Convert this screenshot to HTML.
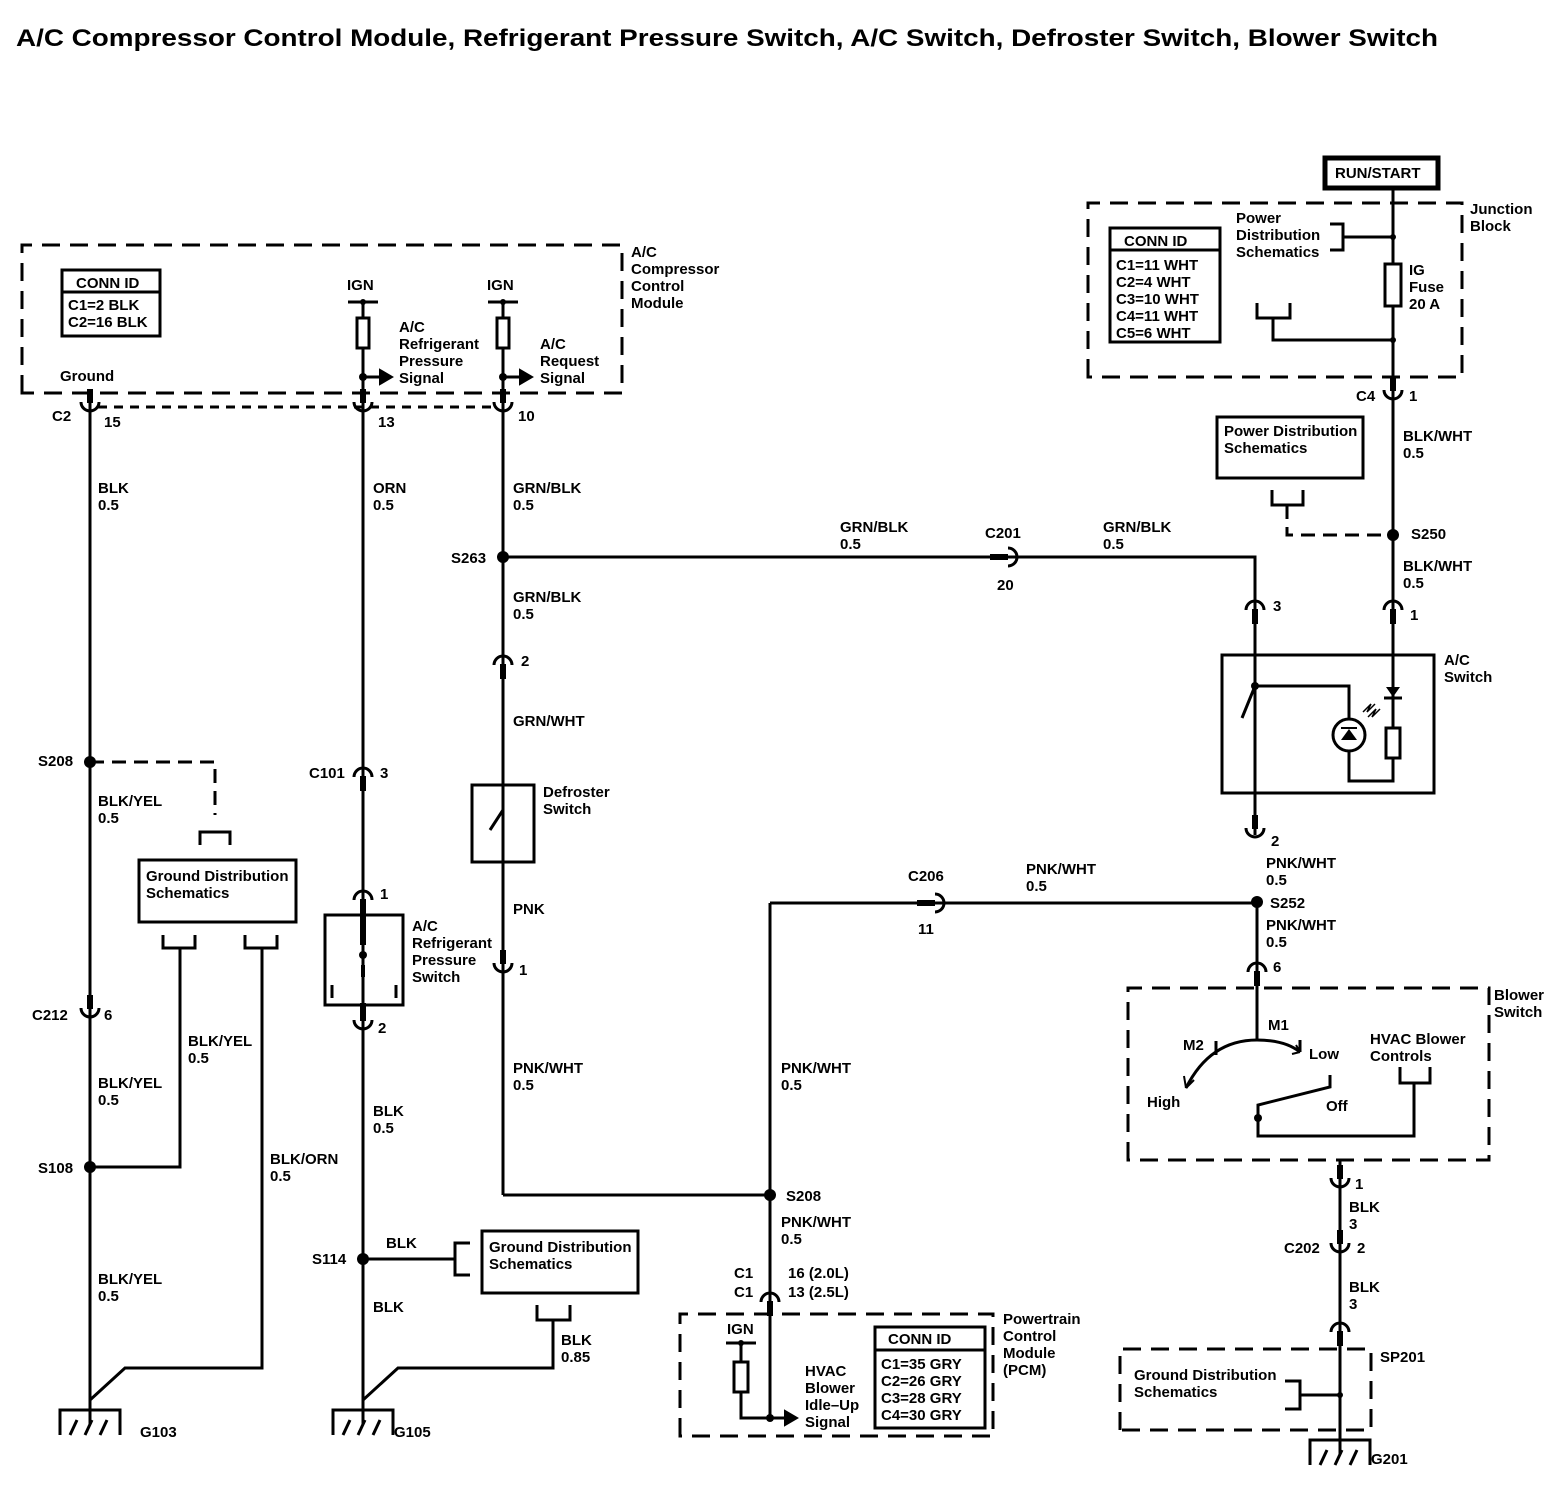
<!DOCTYPE html>
<html><head><meta charset="utf-8"><style>
html,body{margin:0;padding:0;background:#fff;}
svg{display:block;}
text{font-family:"Liberation Sans",Arial,sans-serif;font-size:15px;font-weight:bold;fill:#000;}
.t{font-size:24px;}
</style></head><body>
<svg width="1554" height="1504" viewBox="0 0 1554 1504" xmlns="http://www.w3.org/2000/svg">
<defs>
<g id="U"><rect x="-3" y="-15" width="6" height="14" fill="#000"/><path d="M-9,-2 A9 9 0 0 0 9,-2" fill="none" stroke="#000" stroke-width="3"/></g>
<g id="N"><rect x="-3" y="1" width="6" height="15" fill="#000"/><path d="M-9,2 A9 9 0 0 1 9,2" fill="none" stroke="#000" stroke-width="3"/></g>
<g id="R"><rect x="-20" y="-3" width="18" height="6" fill="#000"/><path d="M-2,-9 A9 9 0 0 1 -2,9" fill="none" stroke="#000" stroke-width="3"/></g>
<g id="G"><path d="M-30,25 L-30,0 L30,0 L30,25 M0,-12 L0,14" fill="none" stroke="#000" stroke-width="3"/><path d="M-20,25 L-13,10 M-5,25 L2,10 M10,25 L17,10" stroke="#000" stroke-width="3"/></g>
</defs>
<text x="16" y="46" class="t" textLength="1422" lengthAdjust="spacingAndGlyphs">A/C Compressor Control Module, Refrigerant Pressure   Switch, A/C Switch, Defroster Switch, Blower Switch</text>

<g fill="none" stroke="#000" stroke-width="3">
<path d="M22,393 L22,245 L622,245 L622,393 Z" stroke-dasharray="18,10"/>
<path d="M98,407 L495,407" stroke-dasharray="9,7"/>
<rect x="62" y="270" width="98" height="66"/>
<line x1="62" y1="292" x2="160" y2="292"/>
<line x1="348" y1="302" x2="378" y2="302"/><line x1="488" y1="302" x2="518" y2="302"/>
<rect x="357" y="318" width="12" height="30"/><rect x="497" y="318" width="12" height="30"/>
<line x1="363" y1="302" x2="363" y2="318"/><line x1="503" y1="302" x2="503" y2="318"/>
<line x1="363" y1="348" x2="363" y2="1400"/><line x1="503" y1="348" x2="503" y2="1195"/>
<line x1="363" y1="377" x2="380" y2="377"/><line x1="503" y1="377" x2="520" y2="377"/>
<line x1="90" y1="393" x2="90" y2="1400"/>
<path d="M90,762 L215,762 L215,815" stroke-dasharray="14,8"/>
<path d="M200,845 L200,832 L230,832 L230,845"/>
<rect x="139" y="860" width="157" height="62"/>
<path d="M163,935 L163,948 L195,948 L195,935 M180,948 L180,1167 L90,1167"/>
<path d="M245,935 L245,948 L277,948 L277,935 M262,948 L262,1368 L125,1368 L90,1400"/>
<path d="M363,1259 L455,1259 M470,1243 L455,1243 L455,1275 L470,1275"/>
<rect x="482" y="1231" width="156" height="62"/>
<path d="M537,1305 L537,1320 L570,1320 L570,1305 M553,1320 L553,1368 L398,1368 L363,1400"/>
<rect x="325" y="915" width="78" height="90"/>
<line x1="332" y1="985" x2="332" y2="998"/><line x1="396" y1="985" x2="396" y2="998"/>
<rect x="472" y="785" width="62" height="77"/>
<line x1="503" y1="810" x2="490" y2="830" stroke-width="3"/>
<path d="M503,557 L1255,557 L1255,830"/>
<path d="M503,1195 L770,1195 M770,903 L770,1420 M770,903 L1257,903"/>
<path d="M680,1436 L680,1314 L993,1314 L993,1436 Z" stroke-dasharray="18,10"/>
<line x1="726" y1="1343" x2="756" y2="1343"/><line x1="741" y1="1343" x2="741" y2="1362"/>
<rect x="734" y="1362" width="14" height="30"/>
<path d="M741,1392 L741,1418 L785,1418"/>
<rect x="875" y="1327" width="110" height="101"/>
<line x1="875" y1="1350" x2="985" y2="1350"/>
<rect x="1325" y="158" width="113" height="30" stroke-width="5"/>
<line x1="1393" y1="190" x2="1393" y2="605"/>
<path d="M1088,377 L1088,203 L1462,203 L1462,377 Z" stroke-dasharray="18,10"/>
<rect x="1110" y="228" width="110" height="114"/>
<line x1="1110" y1="250" x2="1220" y2="250"/>
<path d="M1330,224 L1343,224 L1343,250 L1330,250 M1343,237 L1393,237"/>
<rect x="1385" y="264" width="16" height="42" fill="#fff"/>
<path d="M1257,303 L1257,318 L1290,318 L1290,303 M1273,318 L1273,340 L1393,340"/>
<rect x="1217" y="417" width="146" height="61"/>
<path d="M1272,490 L1272,505 L1303,505 L1303,490"/>
<path d="M1287,505 L1287,535 L1393,535" stroke-dasharray="14,8"/>
<rect x="1222" y="655" width="212" height="138"/>
<line x1="1393" y1="605" x2="1393" y2="728"/>
<rect x="1386" y="728" width="14" height="30"/>
<path d="M1393,758 L1393,781 L1349,781 L1349,751 M1349,719 L1349,686 L1255,686 L1242,718"/>
<circle cx="1349" cy="735" r="16"/>
<line x1="1255" y1="726" x2="1255" y2="835"/>
<line x1="1257" y1="903" x2="1257" y2="1040"/>
<path d="M1128,1160 L1128,988 L1489,988 L1489,1160 Z" stroke-dasharray="18,10"/>
<path d="M1186,1088 Q1210,1040 1257,1040 Q1285,1040 1300,1052"/>
<line x1="1216" y1="1041" x2="1216" y2="1055"/><line x1="1300" y1="1040" x2="1300" y2="1052"/>
<path d="M1258,1118 L1258,1105 L1330,1087 L1330,1075"/>
<path d="M1258,1118 L1258,1136 L1414,1136 L1414,1083 M1400,1067 L1400,1083 L1430,1083 L1430,1067"/>
<line x1="1340" y1="1160" x2="1340" y2="1440"/>
<path d="M1120,1430 L1120,1349 L1371,1349 L1371,1430 Z" stroke-dasharray="18,10"/>
<path d="M1285,1381 L1300,1381 L1300,1409 L1285,1409 M1300,1395 L1340,1395"/>
</g>
<path d="M380,370 L392,377 L380,384 Z M520,370 L532,377 L520,384 Z M785,1411 L797,1418 L785,1425 Z M1186,1088 L1184,1076 M1186,1088 L1194,1080" fill="#000" stroke="#000" stroke-width="2"/>
<path d="M1386,687 L1400,687 L1393,697 Z" fill="#000"/><line x1="1384" y1="698" x2="1402" y2="698" stroke="#000" stroke-width="3"/>
<path d="M1341,740 L1357,740 L1349,729 Z" fill="#000"/><line x1="1341" y1="728" x2="1357" y2="728" stroke="#000" stroke-width="2"/>
<path d="M1363,712 L1371,704 L1367,712 L1375,704 M1368,717 L1376,709 L1372,717 L1380,709" fill="none" stroke="#000" stroke-width="1.5"/>
<path d="M1300,1052 L1296,1045 M1300,1052 L1292,1054" stroke="#000" stroke-width="2"/>
<g fill="#000">
<circle cx="363" cy="302" r="3"/><circle cx="503" cy="302" r="3"/><circle cx="363" cy="377" r="4"/><circle cx="503" cy="377" r="4"/>
<circle cx="90" cy="762" r="6"/><circle cx="90" cy="1167" r="6"/><circle cx="363" cy="1259" r="6"/>
<circle cx="503" cy="557" r="6"/><circle cx="770" cy="1195" r="6"/><circle cx="770" cy="1418" r="4"/><circle cx="741" cy="1343" r="3"/>
<circle cx="1393" cy="535" r="6"/><circle cx="1257" cy="902" r="6"/><circle cx="1393" cy="237" r="3"/><circle cx="1393" cy="340" r="3"/>
<circle cx="1255" cy="686" r="4"/><circle cx="363" cy="955" r="4"/><circle cx="1258" cy="1118" r="4"/><circle cx="1340" cy="1395" r="3"/>
<rect x="360" y="905" width="6" height="40"/><rect x="361" y="965" width="4" height="12"/><rect x="360" y="1003" width="6" height="14"/>
</g>
<use href="#U" x="90" y="404"/><use href="#U" x="363" y="404"/><use href="#U" x="503" y="404"/>
<use href="#U" x="1393" y="392"/><use href="#U" x="90" y="1010"/>
<use href="#N" x="363" y="775"/><use href="#N" x="363" y="898"/><use href="#U" x="363" y="1022"/>
<use href="#N" x="503" y="663"/><use href="#U" x="503" y="965"/>
<use href="#N" x="1255" y="608"/><use href="#N" x="1393" y="608"/><use href="#U" x="1255" y="830"/>
<use href="#N" x="1257" y="970"/><use href="#U" x="1340" y="1180"/><use href="#U" x="1340" y="1245"/><use href="#N" x="1340" y="1330"/>
<use href="#N" x="770" y="1300"/>
<use href="#R" x="1010" y="557"/><use href="#R" x="937" y="903"/>
<use href="#G" x="90" y="1410"/><use href="#G" x="363" y="1410"/><use href="#G" x="1340" y="1440"/>

<g>
<text x="631" y="257">A/C</text><text x="631" y="274">Compressor</text><text x="631" y="291">Control</text><text x="631" y="308">Module</text>
<text x="76" y="288">CONN ID</text><text x="68" y="310">C1=2 BLK</text><text x="68" y="327">C2=16 BLK</text>
<text x="347" y="290">IGN</text><text x="487" y="290">IGN</text>
<text x="399" y="332">A/C</text><text x="399" y="349">Refrigerant</text><text x="399" y="366">Pressure</text><text x="399" y="383">Signal</text>
<text x="540" y="349">A/C</text><text x="540" y="366">Request</text><text x="540" y="383">Signal</text>
<text x="60" y="381">Ground</text>
<text x="52" y="421">C2</text><text x="104" y="427">15</text><text x="378" y="427">13</text><text x="518" y="421">10</text>
<text x="98" y="493">BLK</text><text x="98" y="510">0.5</text>
<text x="373" y="493">ORN</text><text x="373" y="510">0.5</text>
<text x="513" y="493">GRN/BLK</text><text x="513" y="510">0.5</text>
<text x="451" y="563">S263</text>
<text x="840" y="532">GRN/BLK</text><text x="840" y="549">0.5</text>
<text x="985" y="538">C201</text><text x="997" y="590">20</text>
<text x="1103" y="532">GRN/BLK</text><text x="1103" y="549">0.5</text>
<text x="513" y="602">GRN/BLK</text><text x="513" y="619">0.5</text>
<text x="521" y="666">2</text><text x="513" y="726">GRN/WHT</text>
<text x="543" y="797">Defroster</text><text x="543" y="814">Switch</text>
<text x="513" y="914">PNK</text><text x="519" y="975">1</text>
<text x="513" y="1073">PNK/WHT</text><text x="513" y="1090">0.5</text>
<text x="38" y="766">S208</text>
<text x="98" y="806">BLK/YEL</text><text x="98" y="823">0.5</text>
<text x="146" y="881">Ground Distribution</text><text x="146" y="898">Schematics</text>
<text x="32" y="1020">C212</text><text x="104" y="1020">6</text>
<text x="188" y="1046">BLK/YEL</text><text x="188" y="1063">0.5</text>
<text x="98" y="1088">BLK/YEL</text><text x="98" y="1105">0.5</text>
<text x="38" y="1173">S108</text>
<text x="270" y="1164">BLK/ORN</text><text x="270" y="1181">0.5</text>
<text x="98" y="1284">BLK/YEL</text><text x="98" y="1301">0.5</text>
<text x="140" y="1437">G103</text><text x="394" y="1437">G105</text>
<text x="309" y="778">C101</text><text x="380" y="778">3</text>
<text x="380" y="899">1</text>
<text x="412" y="931">A/C</text><text x="412" y="948">Refrigerant</text><text x="412" y="965">Pressure</text><text x="412" y="982">Switch</text>
<text x="378" y="1033">2</text>
<text x="373" y="1116">BLK</text><text x="373" y="1133">0.5</text>
<text x="386" y="1248">BLK</text><text x="312" y="1264">S114</text><text x="373" y="1312">BLK</text>
<text x="489" y="1252">Ground Distribution</text><text x="489" y="1269">Schematics</text>
<text x="561" y="1345">BLK</text><text x="561" y="1362">0.85</text>
<text x="908" y="881">C206</text><text x="918" y="934">11</text>
<text x="1026" y="874">PNK/WHT</text><text x="1026" y="891">0.5</text>
<text x="781" y="1073">PNK/WHT</text><text x="781" y="1090">0.5</text>
<text x="786" y="1201">S208</text>
<text x="781" y="1227">PNK/WHT</text><text x="781" y="1244">0.5</text>
<text x="734" y="1278">C1</text><text x="734" y="1297">C1</text>
<text x="788" y="1278">16 (2.0L)</text><text x="788" y="1297">13 (2.5L)</text>
<text x="727" y="1334">IGN</text>
<text x="805" y="1376">HVAC</text><text x="805" y="1393">Blower</text><text x="805" y="1410">Idle–Up</text><text x="805" y="1427">Signal</text>
<text x="888" y="1344">CONN ID</text><text x="881" y="1369">C1=35 GRY</text><text x="881" y="1386">C2=26 GRY</text><text x="881" y="1403">C3=28 GRY</text><text x="881" y="1420">C4=30 GRY</text>
<text x="1003" y="1324">Powertrain</text><text x="1003" y="1341">Control</text><text x="1003" y="1358">Module</text><text x="1003" y="1375">(PCM)</text>
<text x="1335" y="178">RUN/START</text>
<text x="1470" y="214">Junction</text><text x="1470" y="231">Block</text>
<text x="1124" y="246">CONN ID</text><text x="1116" y="270">C1=11 WHT</text><text x="1116" y="287">C2=4 WHT</text><text x="1116" y="304">C3=10 WHT</text><text x="1116" y="321">C4=11 WHT</text><text x="1116" y="338">C5=6 WHT</text>
<text x="1236" y="223">Power</text><text x="1236" y="240">Distribution</text><text x="1236" y="257">Schematics</text>
<text x="1409" y="275">IG</text><text x="1409" y="292">Fuse</text><text x="1409" y="309">20 A</text>
<text x="1356" y="401">C4</text><text x="1409" y="401">1</text>
<text x="1403" y="441">BLK/WHT</text><text x="1403" y="458">0.5</text>
<text x="1224" y="436">Power Distribution</text><text x="1224" y="453">Schematics</text>
<text x="1411" y="539">S250</text>
<text x="1403" y="571">BLK/WHT</text><text x="1403" y="588">0.5</text>
<text x="1273" y="611">3</text><text x="1410" y="620">1</text>
<text x="1444" y="665">A/C</text><text x="1444" y="682">Switch</text>
<text x="1271" y="846">2</text>
<text x="1266" y="868">PNK/WHT</text><text x="1266" y="885">0.5</text>
<text x="1270" y="908">S252</text>
<text x="1266" y="930">PNK/WHT</text><text x="1266" y="947">0.5</text>
<text x="1273" y="972">6</text>
<text x="1494" y="1000">Blower</text><text x="1494" y="1017">Switch</text>
<text x="1268" y="1030">M1</text><text x="1183" y="1050">M2</text><text x="1309" y="1059">Low</text>
<text x="1370" y="1044">HVAC Blower</text><text x="1370" y="1061">Controls</text>
<text x="1147" y="1107">High</text><text x="1326" y="1111">Off</text>
<text x="1355" y="1189">1</text>
<text x="1349" y="1212">BLK</text><text x="1349" y="1229">3</text>
<text x="1284" y="1253">C202</text><text x="1357" y="1253">2</text>
<text x="1349" y="1292">BLK</text><text x="1349" y="1309">3</text>
<text x="1380" y="1362">SP201</text>
<text x="1134" y="1380">Ground Distribution</text><text x="1134" y="1397">Schematics</text>
<text x="1371" y="1464">G201</text>
</g>
</svg>
</body></html>
